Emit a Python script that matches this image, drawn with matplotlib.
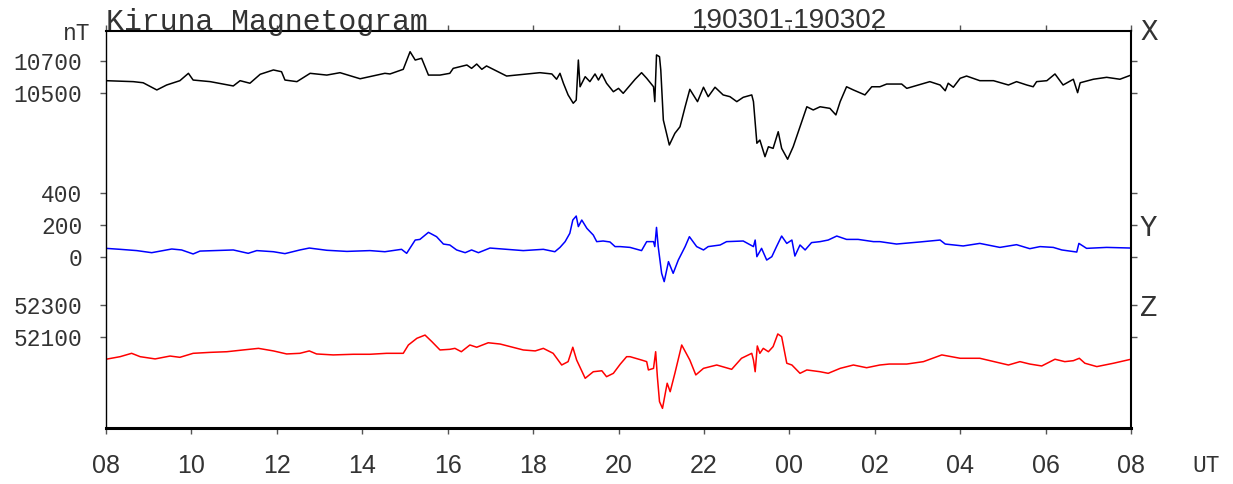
import numpy as np
import matplotlib
matplotlib.use("Agg")
import matplotlib.pyplot as plt

# hours since 08 UT, values in nT
x_t = [0.00, 0.64, 0.87, 1.19, 1.42, 1.73, 1.93, 2.04, 2.44, 2.98, 3.14, 3.37, 3.61, 3.92,
       4.11, 4.19, 4.47, 4.78, 5.17, 5.48, 5.95, 6.53, 6.65, 6.96, 7.12, 7.24, 7.39, 7.55,
       7.82, 8.05, 8.13, 8.45, 8.56, 8.68, 8.80, 8.91, 9.38, 9.85, 10.16, 10.44, 10.55,
       10.63, 10.71, 10.82, 10.94, 11.01, 11.06, 11.10, 11.22, 11.33, 11.45, 11.53, 11.61,
       11.72, 11.88, 12.00, 12.11, 12.19, 12.39, 12.54, 12.66, 12.82, 12.85, 12.89, 12.96,
       12.99, 13.05, 13.19, 13.32, 13.44, 13.56, 13.67, 13.85, 13.99, 14.10, 14.26, 14.45,
       14.61, 14.77, 14.92, 15.12, 15.16, 15.24, 15.31, 15.43, 15.51, 15.62, 15.74, 15.82,
       15.96, 16.09, 16.25, 16.41, 16.56, 16.72, 16.95, 17.09, 17.19, 17.34, 17.50, 17.77,
       17.93, 18.12, 18.28, 18.63, 18.75, 19.29, 19.53, 19.65, 19.72, 19.84, 20.00, 20.15,
       20.46, 20.78, 21.13, 21.32, 21.56, 21.71, 21.79, 22.03, 22.22, 22.41, 22.65, 22.75,
       22.81, 23.12, 23.43, 23.74, 24.00]
x_nt = [10577, 10571, 10564, 10519, 10550, 10577, 10623, 10581, 10571, 10544, 10577, 10561,
        10617, 10644, 10633, 10581, 10571, 10623, 10612, 10627, 10589, 10623, 10619, 10648,
        10758, 10706, 10717, 10612, 10612, 10623, 10654, 10675, 10654, 10681, 10648, 10669,
        10606, 10619, 10627, 10619, 10586, 10623, 10561, 10488, 10436, 10456, 10706, 10539,
        10602, 10571, 10619, 10581, 10619, 10561, 10508, 10529, 10498, 10523, 10586, 10627,
        10592, 10539, 10446, 10738, 10727, 10644, 10331, 10175, 10248, 10289, 10414, 10523,
        10446, 10536, 10477, 10536, 10488, 10477, 10446, 10473, 10488, 10446, 10186, 10206,
        10102, 10164, 10154, 10258, 10154, 10086, 10164, 10289, 10414, 10394, 10414, 10404,
        10363, 10446, 10539, 10519, 10488, 10539, 10539, 10556, 10556, 10529, 10571, 10550,
        10514, 10561, 10536, 10592, 10606, 10577, 10577, 10550, 10571, 10550, 10539, 10571,
        10577, 10619, 10550, 10586, 10502, 10564, 10586, 10598, 10586, 10612]

y_t = [0.00, 0.33, 0.72, 1.07, 1.54, 1.77, 2.04, 2.20, 2.98, 3.33, 3.53, 3.92, 4.19, 4.54,
       4.76, 5.17, 5.64, 6.18, 6.53, 6.92, 7.04, 7.24, 7.35, 7.55, 7.74, 7.90, 8.05, 8.21,
       8.41, 8.56, 8.72, 8.99, 9.38, 9.77, 10.24, 10.51, 10.63, 10.75, 10.86, 10.93, 11.01,
       11.06, 11.14, 11.26, 11.41, 11.49, 11.64, 11.80, 11.92, 12.04, 12.27, 12.54, 12.66,
       12.82, 12.85, 12.89, 12.93, 13.01, 13.07, 13.17, 13.28, 13.40, 13.56, 13.66, 13.83,
       13.99, 14.10, 14.38, 14.53, 14.92, 15.16, 15.20, 15.24, 15.35, 15.47, 15.59, 15.70,
       15.82, 15.94, 16.06, 16.13, 16.25, 16.37, 16.52, 16.72, 16.91, 17.11, 17.34, 17.61,
       17.97, 18.12, 18.51, 19.06, 19.53, 19.65, 20.07, 20.46, 20.93, 21.32, 21.63, 21.87,
       22.18, 22.38, 22.73, 22.78, 22.96, 23.43, 24.00]
y_nt = [54, 48, 40, 27, 50, 44, 19, 37, 44, 23, 40, 33, 21, 44, 56, 42, 35, 40, 33, 48, 23,
        106, 110, 154, 127, 81, 75, 44, 27, 44, 27, 56, 48, 40, 48, 33, 60, 96, 148, 231,
        256, 190, 231, 179, 137, 96, 100, 94, 65, 65, 60, 40, 96, 96, 65, 185, 65, -102,
        -154, -29, -102, -19, 65, 127, 65, 44, 65, 75, 96, 100, 65, 106, 2, 54, -19, 2, 65,
        131, 85, 106, 6, 75, 44, 90, 96, 106, 131, 110, 110, 96, 96, 81, 94, 106, 81, 69,
        85, 60, 77, 52, 65, 60, 44, 31, 85, 54, 60, 56]

z_t = [0.00, 0.33, 0.60, 0.80, 1.15, 1.50, 1.73, 2.04, 2.44, 2.83, 3.21, 3.57, 3.92, 4.23,
       4.54, 4.76, 4.93, 5.32, 5.79, 6.18, 6.57, 6.96, 7.08, 7.28, 7.47, 7.63, 7.82, 8.05,
       8.17, 8.32, 8.52, 8.68, 8.95, 9.23, 9.77, 10.05, 10.24, 10.47, 10.67, 10.82, 10.93,
       11.02, 11.22, 11.41, 11.61, 11.72, 11.88, 12.04, 12.19, 12.27, 12.54, 12.66, 12.70,
       12.82, 12.87, 12.91, 12.96, 13.03, 13.11, 13.14, 13.21, 13.32, 13.48, 13.67, 13.81,
       13.99, 14.30, 14.65, 14.88, 15.12, 15.16, 15.20, 15.25, 15.31, 15.39, 15.51, 15.62,
       15.73, 15.82, 15.94, 16.06, 16.25, 16.41, 16.72, 16.91, 17.19, 17.50, 17.81, 18.12,
       18.34, 18.75, 19.14, 19.57, 20.00, 20.46, 20.70, 21.13, 21.40, 21.63, 21.91, 22.22,
       22.45, 22.65, 22.79, 22.92, 23.20, 23.59, 24.00]
z_nt = [51961, 51977, 51998, 51977, 51963, 51981, 51973, 51998, 52004, 52008, 52019, 52029,
        52013, 51994, 51998, 52013, 51994, 51988, 51992, 51992, 51998, 51998, 52050, 52092,
        52112, 52071, 52019, 52023, 52029, 52008, 52050, 52036, 52064, 52056, 52019, 52013,
        52029, 51998, 51925, 51946, 52036, 51956, 51842, 51883, 51889, 51852, 51873, 51930,
        51977, 51977, 51956, 51946, 51894, 51904, 52008, 51852, 51696, 51654, 51769, 51811,
        51758, 51873, 52050, 51956, 51863, 51904, 51925, 51898, 51967, 51998, 51956, 51883,
        52044, 51998, 52029, 52008, 52040, 52119, 52102, 51936, 51925, 51873, 51894, 51883,
        51873, 51904, 51925, 51908, 51925, 51931, 51931, 51946, 51988, 51967, 51967, 51952,
        51925, 51946, 51931, 51919, 51961, 51946, 51952, 51967, 51936, 51915, 51936, 51961]

hour_labels = ["08", "10", "12", "14", "16", "18", "20", "22", "00", "02", "04", "06", "08"]
ytick_vals = [10700, 10500, 400, 200, 0, 52300, 52100]

# each component is shifted onto one shared axis, same nT scale for all
x_off = 8406.25
y_off = -1068.75
z_off = 51531.25
ytick_pos = [10700 - x_off, 10500 - x_off, 400 - y_off, 200 - y_off, 0 - y_off,
             52300 - z_off, 52100 - z_off]

mono = ["Liberation Mono", "DejaVu Sans Mono"]
narrow = ["Liberation Sans Narrow", "Liberation Sans", "DejaVu Sans"]
txt = "#333333"

fig = plt.figure(figsize=(12.33, 4.84), dpi=100)
ax = fig.add_axes([106 / 1233, 56 / 484, 1025 / 1233, 397 / 484])

ax.plot(x_t, np.array(x_nt) - x_off, color="black", lw=1.1)
ax.plot(y_t, np.array(y_nt) - y_off, color="blue", lw=1.1)
ax.plot(z_t, np.array(z_nt) - z_off, color="red", lw=1.1)

ax.set_xlim(0, 24)
ax.set_ylim(0, 2481.25)

ax.set_xticks(range(0, 25, 2))
ax.set_xticklabels(hour_labels, fontfamily=narrow, fontsize=18, color=txt)
ax.set_yticks(ytick_pos)
ax.set_yticklabels([str(v) for v in ytick_vals], fontfamily=mono, fontsize=16.5, color=txt)

ax.tick_params(axis="x", which="both", top=True, bottom=True, direction="out",
               length=4.5, width=1, color="#555555", pad=14)
ax.tick_params(axis="y", which="both", left=True, right=True, direction="out",
               length=4.5, width=1, color="#555555", pad=12.5)

for side, w in [("left", 1.0), ("right", 1.5), ("top", 1.5), ("bottom", 2.2)]:
    ax.spines[side].set_linewidth(w)
    ax.spines[side].set_color("black")

fig.text(106 / 1233, 1 - 30 / 484, "Kiruna Magnetogram", fontfamily=mono, fontsize=21.5,
         color=txt, ha="left", va="baseline")
fig.text(789 / 1233, 1 - 28 / 484, "190301-190302", fontfamily=narrow, fontsize=20,
         color=txt, ha="center", va="baseline")
fig.text(90 / 1233, 1 - 34 / 484, "nT", fontfamily=mono, fontsize=16.5, color=txt,
         ha="right", va="center")
fig.text(1206 / 1233, 1 - 465 / 484, "UT", fontfamily=mono, fontsize=16.5, color=txt,
         ha="center", va="center")
for lab, ypix in [("X", 32), ("Y", 228), ("Z", 308)]:
    fig.text(1140 / 1233, 1 - ypix / 484, lab, fontfamily=mono, fontsize=21, color=txt,
             ha="left", va="center")

fig.savefig("out.png", dpi=100)
